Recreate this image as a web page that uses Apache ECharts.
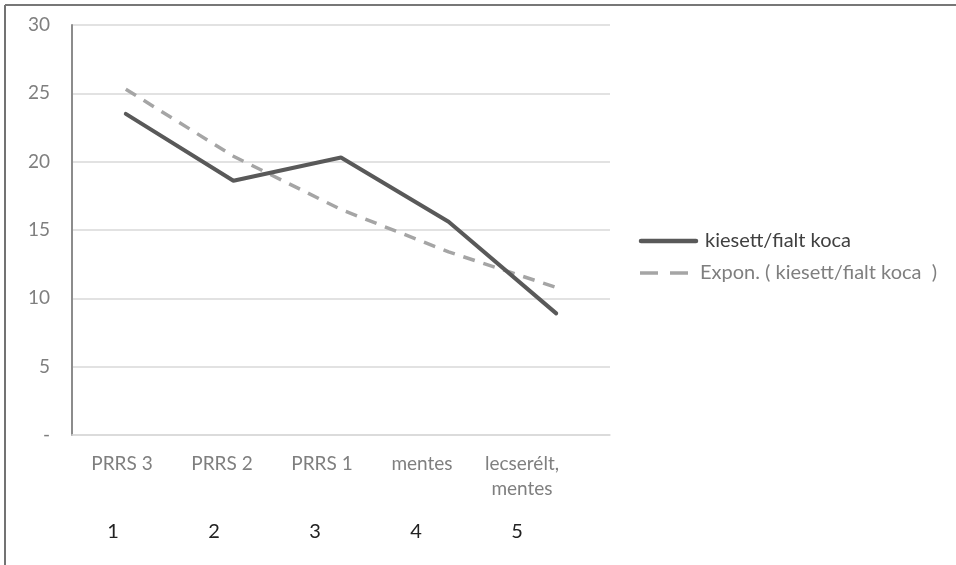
<!DOCTYPE html>
<html>
<head>
<meta charset="utf-8">
<script src="https://cdn.jsdelivr.net/npm/echarts@6/dist/echarts.min.js"></script>
<style>
html,body{margin:0;padding:0;background:#fff;}
#c{width:956px;height:565px;}
</style>
</head>
<body>
<div id="c"></div>
<script>
const categories = ['PRRS 3', 'PRRS 2', 'PRRS 1', 'mentes', 'lecserélt,\nmentes'];
const indexLabels = ['1', '2', '3', '4', '5'];
const kiesett = [23.5, 18.6, 20.3, 15.6, 8.9];
const expon = [25.3, 20.4, 16.5, 13.4, 10.8];
const seriesNames = ['kiesett/fialt koca', 'Expon. ( kiesett/fialt koca  )'];

const chart = echarts.init(document.getElementById('c'));
const hiddenY = i => ({ type: 'value', gridIndex: i, show: false, min: 0, max: 30 });
chart.setOption({
  backgroundColor: '#fff',
  animation: false,
  grid: [
    { left: 72, right: 346, top: 25, bottom: 130 },
    { left: 72, width: 500, top: 25, bottom: 130 },
    { left: 62.5, width: 505, top: 25, bottom: 130 }
  ],
  xAxis: [
    {
      type: 'category',
      gridIndex: 0,
      data: categories,
      boundaryGap: true,
      axisLine: { lineStyle: { color: '#d9d9d9', width: 1.5 } },
      axisTick: { show: false },
      axisLabel: { show: false }
    },
    {
      type: 'category',
      gridIndex: 1,
      data: categories,
      boundaryGap: true,
      axisLine: { show: false },
      axisTick: { show: false },
      axisLabel: { margin: 16, fontFamily: 'Lato', fontSize: 19, color: '#7f7f7f', lineHeight: 25, interval: 0 }
    },
    {
      type: 'category',
      gridIndex: 2,
      data: indexLabels,
      boundaryGap: true,
      axisLine: { show: false },
      axisTick: { show: false },
      axisLabel: { margin: 87, fontFamily: 'Lato', fontSize: 20, color: '#222', interval: 0 }
    }
  ],
  yAxis: [
    {
      type: 'value',
      gridIndex: 0,
      min: 0, max: 30, interval: 5,
      axisLine: { show: true, lineStyle: { color: '#8c8c8c', width: 2 } },
      axisTick: { show: false },
      splitLine: { lineStyle: { color: '#d9d9d9', width: 1.5 } },
      axisLabel: {
        margin: 22, fontFamily: 'Lato', fontSize: 19, color: '#7f7f7f',
        formatter: v => v === 0 ? '-' : String(v)
      }
    },
    hiddenY(1),
    hiddenY(2)
  ],
  series: [
    {
      name: seriesNames[0],
      type: 'line',
      data: kiesett,
      symbol: 'none',
      lineStyle: { color: '#595959', width: 4, cap: 'round' },
      z: 3
    },
    {
      name: seriesNames[1],
      type: 'line',
      data: expon,
      symbol: 'none',
      lineStyle: { color: '#a5a5a5', width: 3.5, type: [12, 9] },
      z: 2
    }
  ],
  graphic: [
    { type: 'line', shape: { x1: 5, y1: 5, x2: 5, y2: 565 }, style: { stroke: '#444', lineWidth: 1.5 } },
    { type: 'line', shape: { x1: 5, y1: 5, x2: 956, y2: 5 }, style: { stroke: '#777', lineWidth: 2 } },
    { type: 'line', shape: { x1: 641, y1: 241, x2: 696, y2: 241 }, style: { stroke: '#595959', lineWidth: 4.5, lineCap: 'round' } },
    { type: 'text', x: 705, y: 241, style: { text: seriesNames[0], fontFamily: 'Lato', fontSize: 20, fill: '#404040', verticalAlign: 'middle' } },
    { type: 'line', shape: { x1: 640, y1: 273, x2: 693, y2: 273 }, style: { stroke: '#a5a5a5', lineWidth: 3.5, lineDash: [18, 12] } },
    { type: 'text', x: 700, y: 273, style: { text: seriesNames[1], fontFamily: 'Lato', fontSize: 20, fill: '#7f7f7f', verticalAlign: 'middle' } }
  ]
});
</script>
</body>
</html>
